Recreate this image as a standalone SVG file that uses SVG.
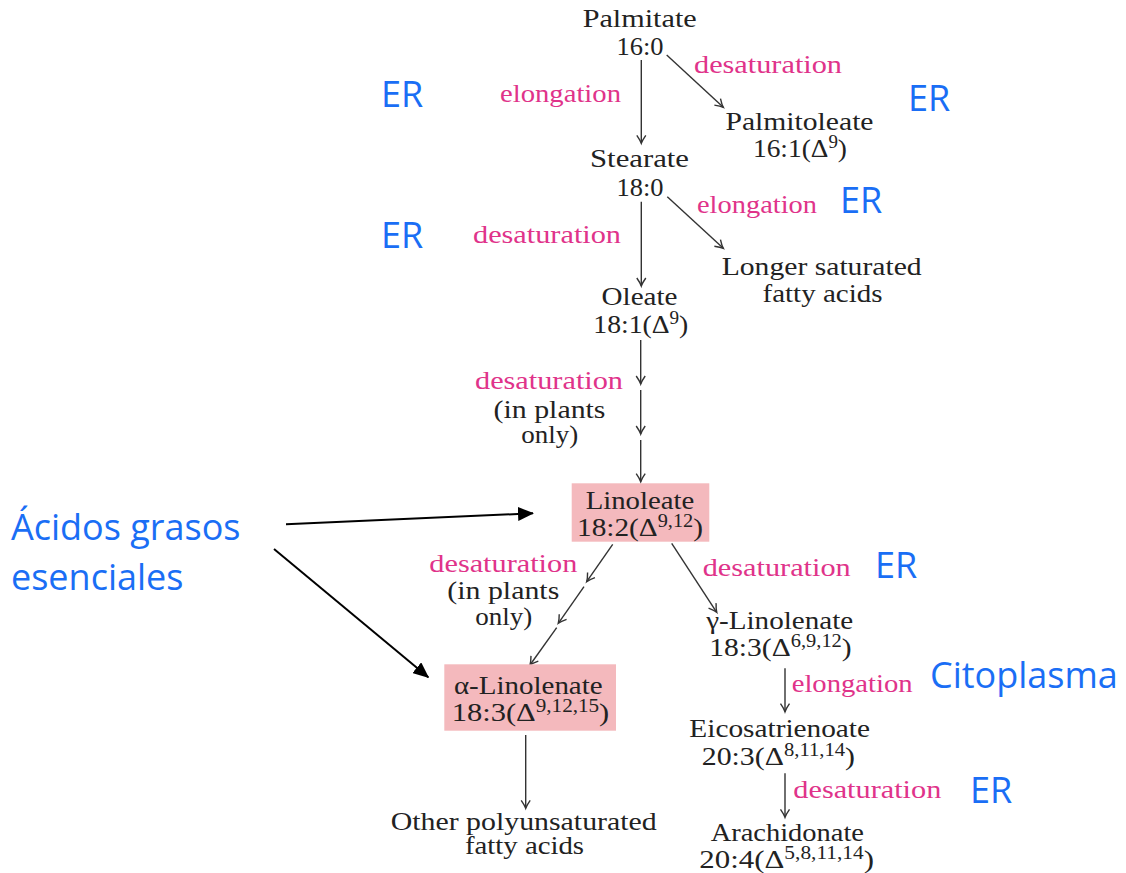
<svg xmlns="http://www.w3.org/2000/svg" width="1126" height="873" viewBox="0 0 1126 873">
<style>
.n{font-family:'Liberation Serif','Times New Roman',serif;font-size:26px;fill:#222;text-anchor:middle}
.p{font-family:'Liberation Serif','Times New Roman',serif;font-size:26px;fill:#e0338a}
.b{font-family:'Open Sans','Noto Sans',sans-serif;font-size:36px;fill:#1a6ef5}
.sup{font-size:18px}
.c{stroke:#333;stroke-width:1.4;fill:none;marker-end:url(#v)}
.k{stroke:#000;stroke-width:2;fill:none;marker-end:url(#t)}
.box{fill:#f4b9bd}
</style>
<defs>
<marker id="v" markerUnits="userSpaceOnUse" viewBox="-10 -6 12 12" refX="0" refY="0" markerWidth="12" markerHeight="12" orient="auto" overflow="visible">
<path d="M-8,-4.5 Q-3,-1 0,0 Q-3,1 -8,4.5" stroke="#333" stroke-width="1.4" fill="none"/>
</marker>
<marker id="t" markerUnits="userSpaceOnUse" viewBox="0 0 16 14" refX="15" refY="7" markerWidth="16" markerHeight="14" orient="auto">
<path d="M0,0 L16,7 L0,14 Z" fill="#000"/>
</marker>
</defs>
<rect width="1126" height="873" fill="#fff"/>

<g id="connectors">
<line class="c" x1="641.3" y1="60" x2="641.3" y2="143.3"/>
<line class="c" x1="666.7" y1="55" x2="723.3" y2="107.3"/>
<line class="c" x1="641.3" y1="201.7" x2="641.3" y2="286"/>
<line class="c" x1="667.3" y1="196.7" x2="723.3" y2="248.3"/>
<line class="c" x1="640.7" y1="340" x2="640.7" y2="384"/>
<line class="c" x1="640.7" y1="390" x2="640.7" y2="434"/>
<line class="c" x1="640.7" y1="440" x2="640.7" y2="481.7"/>
<line class="c" x1="612.7" y1="544.3" x2="586.7" y2="581.7"/>
<line class="c" x1="584" y1="586.7" x2="558.3" y2="623.3"/>
<line class="c" x1="556.7" y1="627.7" x2="530" y2="665"/>
<line class="c" x1="671.7" y1="543.3" x2="716.7" y2="612.3"/>
<line class="c" x1="785" y1="668.3" x2="785" y2="711.7"/>
<line class="c" x1="785" y1="773.3" x2="785" y2="817.3"/>
<line class="c" x1="525.7" y1="735" x2="525.7" y2="808.3"/>
<line class="k" x1="286" y1="524.3" x2="533" y2="513.3"/>
<line class="k" x1="274" y1="549" x2="428.3" y2="677.3"/>
</g>

<g id="edge-labels">
<text class="p" x="694" y="72.7" textLength="148" lengthAdjust="spacingAndGlyphs">desaturation</text>
<text class="p" x="500" y="101.7" textLength="121" lengthAdjust="spacingAndGlyphs">elongation</text>
<text class="p" x="697" y="213.3" textLength="120" lengthAdjust="spacingAndGlyphs">elongation</text>
<text class="p" x="473" y="242.7" textLength="148" lengthAdjust="spacingAndGlyphs">desaturation</text>
<text class="p" x="475" y="389.3" textLength="148" lengthAdjust="spacingAndGlyphs">desaturation</text>
<text class="n" x="549.5" y="418.3" textLength="112" lengthAdjust="spacingAndGlyphs">(in plants</text>
<text class="n" x="549.7" y="443.3" textLength="57" lengthAdjust="spacingAndGlyphs">only)</text>
<text class="p" x="429.3" y="571.7" textLength="148" lengthAdjust="spacingAndGlyphs">desaturation</text>
<text class="n" x="503.3" y="599.3" textLength="112" lengthAdjust="spacingAndGlyphs">(in plants</text>
<text class="n" x="503.8" y="625" textLength="57" lengthAdjust="spacingAndGlyphs">only)</text>
<text class="p" x="702.7" y="576" textLength="148" lengthAdjust="spacingAndGlyphs">desaturation</text>
<text class="p" x="791.7" y="691.7" textLength="121" lengthAdjust="spacingAndGlyphs">elongation</text>
<text class="p" x="793.3" y="798.3" textLength="148" lengthAdjust="spacingAndGlyphs">desaturation</text>
</g>

<g id="palmitate">
<text class="n" x="639.7" y="26.7" textLength="114" lengthAdjust="spacingAndGlyphs">Palmitate</text>
<text class="n" x="640" y="55" textLength="47" lengthAdjust="spacingAndGlyphs">16:0</text>
</g>
<g id="palmitoleate">
<text class="n" x="799.5" y="130" textLength="148" lengthAdjust="spacingAndGlyphs">Palmitoleate</text>
<text class="n" x="800" y="157.3" textLength="94" lengthAdjust="spacingAndGlyphs">16:1(Δ<tspan class="sup" dy="-9">9</tspan><tspan dy="9">)</tspan></text>
</g>
<g id="stearate">
<text class="n" x="639.5" y="167.3" textLength="99" lengthAdjust="spacingAndGlyphs">Stearate</text>
<text class="n" x="640" y="196" textLength="47" lengthAdjust="spacingAndGlyphs">18:0</text>
</g>
<g id="longer-saturated">
<text class="n" x="821.7" y="275" textLength="200" lengthAdjust="spacingAndGlyphs">Longer saturated</text>
<text class="n" x="822.5" y="301.7" textLength="120" lengthAdjust="spacingAndGlyphs">fatty acids</text>
</g>
<g id="oleate">
<text class="n" x="639.5" y="305" textLength="76" lengthAdjust="spacingAndGlyphs">Oleate</text>
<text class="n" x="640.8" y="333.3" textLength="95" lengthAdjust="spacingAndGlyphs">18:1(Δ<tspan class="sup" dy="-9">9</tspan><tspan dy="9">)</tspan></text>
</g>
<g id="linoleate">
<rect class="box" x="571.7" y="483.3" width="137.6" height="58.4"/>
<text class="n" x="640" y="509" textLength="108.6" lengthAdjust="spacingAndGlyphs">Linoleate</text>
<text class="n" x="640" y="535.7" textLength="126" lengthAdjust="spacingAndGlyphs">18:2(Δ<tspan class="sup" dy="-9">9,12</tspan><tspan dy="9">)</tspan></text>
</g>
<g id="gamma-linolenate">
<text class="n" x="779.7" y="628.5" textLength="147" lengthAdjust="spacingAndGlyphs">γ-Linolenate</text>
<text class="n" x="780.5" y="655.5" textLength="142.4" lengthAdjust="spacingAndGlyphs">18:3(Δ<tspan class="sup" dy="-9">6,9,12</tspan><tspan dy="9">)</tspan></text>
</g>
<g id="alpha-linolenate">
<rect class="box" x="444.3" y="664.3" width="171.7" height="66.4"/>
<text class="n" x="528.3" y="694.3" textLength="148.7" lengthAdjust="spacingAndGlyphs">α-Linolenate</text>
<text class="n" x="530.5" y="721" textLength="157.6" lengthAdjust="spacingAndGlyphs">18:3(Δ<tspan class="sup" dy="-9">9,12,15</tspan><tspan dy="9">)</tspan></text>
</g>
<g id="eicosatrienoate">
<text class="n" x="779.7" y="737.3" textLength="180.7" lengthAdjust="spacingAndGlyphs">Eicosatrienoate</text>
<text class="n" x="778.4" y="765" textLength="153.3" lengthAdjust="spacingAndGlyphs">20:3(Δ<tspan class="sup" dy="-9">8,11,14</tspan><tspan dy="9">)</tspan></text>
</g>
<g id="arachidonate">
<text class="n" x="787.3" y="840.7" textLength="153.3" lengthAdjust="spacingAndGlyphs">Arachidonate</text>
<text class="n" x="786.7" y="868" textLength="174.7" lengthAdjust="spacingAndGlyphs">20:4(Δ<tspan class="sup" dy="-9">5,8,11,14</tspan><tspan dy="9">)</tspan></text>
</g>
<g id="other-polyunsaturated">
<text class="n" x="523.7" y="829.5" textLength="266" lengthAdjust="spacingAndGlyphs">Other polyunsaturated</text>
<text class="n" x="524.5" y="853.5" textLength="119" lengthAdjust="spacingAndGlyphs">fatty acids</text>
</g>

<g id="annotations">
<text class="b" x="381" y="107">ER</text>
<text class="b" x="908" y="111">ER</text>
<text class="b" x="840" y="213">ER</text>
<text class="b" x="381" y="248">ER</text>
<text class="b" x="875" y="578">ER</text>
<text class="b" x="930" y="688">Citoplasma</text>
<text class="b" x="970" y="803">ER</text>
<text class="b" x="11" y="540">Ácidos grasos</text>
<text class="b" x="11" y="590">esenciales</text>
</g>
</svg>
